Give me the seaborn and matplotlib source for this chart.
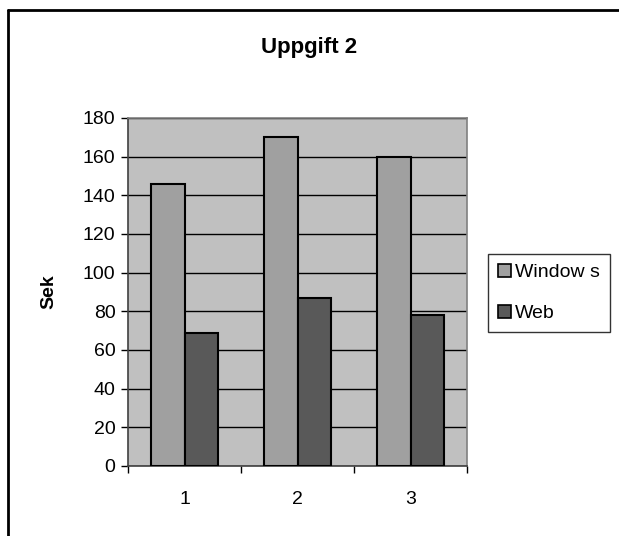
import matplotlib
matplotlib.use("Agg")
import matplotlib.pyplot as plt
from matplotlib.lines import Line2D
import seaborn as sns
import pandas as pd

# Measurements per task
categories = ["1", "2", "3"]
windows_values = [146, 170, 160]
web_values = [69, 87, 78]
series_names = ["Window s", "Web"]
y_ticks = [0, 20, 40, 60, 80, 100, 120, 140, 160, 180]

df = pd.DataFrame({
    "Uppgift": categories * 2,
    "Sek": windows_values + web_values,
    "Serie": [series_names[0]] * len(categories) + [series_names[1]] * len(categories),
})

sns.set_theme(style="white")
plt.rcParams["font.family"] = ["Liberation Sans", "DejaVu Sans"]
plt.rcParams["text.color"] = "black"
plt.rcParams["axes.labelcolor"] = "black"
plt.rcParams["xtick.color"] = "black"
plt.rcParams["ytick.color"] = "black"

fig = plt.figure(figsize=(6.19, 5.36), dpi=100)
ax = fig.add_axes([128 / 619, 1 - 466 / 536, 339 / 619, 348 / 536])

palette = {series_names[0]: "#A0A0A0", series_names[1]: "#595959"}
sns.barplot(data=df, x="Uppgift", y="Sek", hue="Serie", palette=palette,
            width=0.585, edgecolor="black", linewidth=1.5, saturation=1,
            ax=ax, zorder=3, legend=True)

ax.set_facecolor("#C0C0C0")
ax.set_ylim(0, 180)
ax.set_xlim(-0.5, 2.5)
ax.set_yticks(y_ticks)
ax.yaxis.grid(True, color="black", linewidth=1.0, zorder=1)
ax.set_axisbelow(True)

for side in ["top", "right"]:
    ax.spines[side].set_color("#808080")
    ax.spines[side].set_linewidth(1.2)
for side in ["left", "bottom"]:
    ax.spines[side].set_color("#404040")
    ax.spines[side].set_linewidth(1.2)

ax.tick_params(axis="y", which="major", direction="out", length=5, width=1,
               color="black", labelsize=14, pad=4, left=True)
# category labels centred, tick marks between groups
ax.set_xticks([0, 1, 2])
ax.set_xticklabels(categories)
ax.tick_params(axis="x", which="major", length=0, labelsize=14, pad=18)
ax.set_xticks([-0.5, 0.5, 1.5, 2.5], minor=True)
ax.tick_params(axis="x", which="minor", direction="out", length=5, width=1,
               color="black", bottom=True)

ax.set_xlabel("")
ax.set_ylabel("Sek", fontsize=14, fontweight="bold", labelpad=18)

fig.text(0.5, 1 - 47 / 536, "Uppgift 2", ha="center", va="center",
         fontsize=16, fontweight="bold")

leg = ax.legend(loc="upper left", bbox_to_anchor=(488 / 619, 1 - 254 / 536),
                bbox_transform=fig.transFigure, borderaxespad=0,
                fontsize=14, frameon=True, fancybox=False, handlelength=0.7,
                handleheight=0.7, handletextpad=0.2, labelspacing=1.2,
                borderpad=0.5)
leg.get_frame().set_edgecolor("black")
leg.get_frame().set_linewidth(1.0)
leg.get_frame().set_facecolor("white")
for h in leg.legend_handles:
    h.set_edgecolor("black")
    h.set_linewidth(1.2)

# outer chart frame (left and top edges)
fig.add_artist(Line2D([8 / 619, 8 / 619], [0, 1 - 10 / 536], transform=fig.transFigure,
                      color="black", linewidth=2))
fig.add_artist(Line2D([8 / 619, 1], [1 - 10 / 536, 1 - 10 / 536], transform=fig.transFigure,
                      color="black", linewidth=2))

fig.savefig("out.png", dpi=100)
